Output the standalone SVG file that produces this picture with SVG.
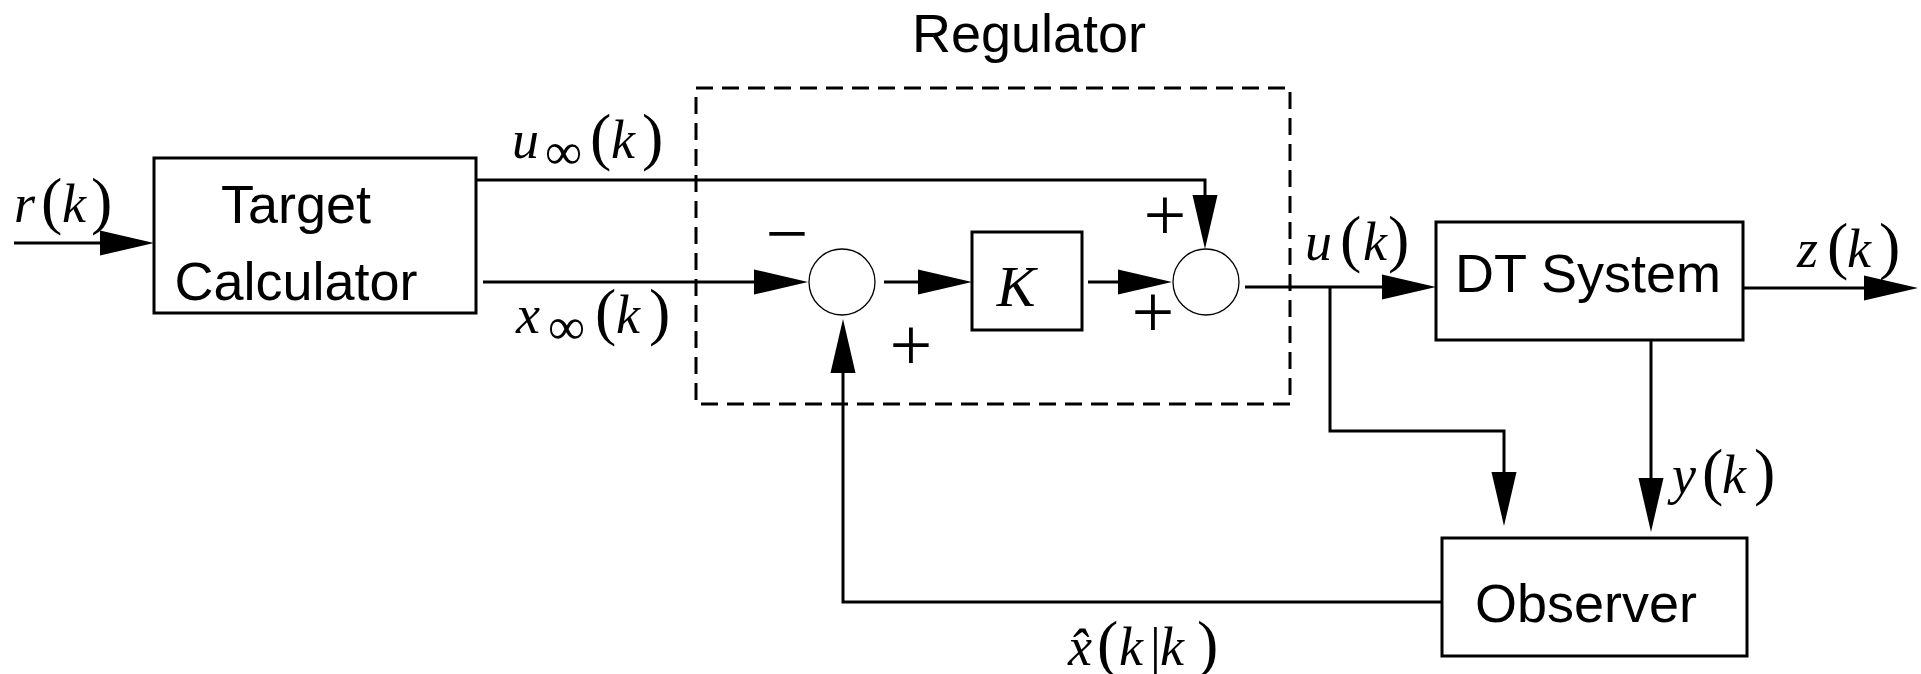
<svg xmlns="http://www.w3.org/2000/svg" width="1921" height="674" viewBox="0 0 1921 674">
<style>
.box{fill:#fff;stroke:#000;stroke-width:3}
.sum{fill:#fff;stroke:#000;stroke-width:1.3}
.ln{fill:none;stroke:#000;stroke-width:3}
.dash{fill:none;stroke:#000;stroke-width:3;stroke-dasharray:17 9}
.t{font-family:"Liberation Sans",Arial,sans-serif;font-size:54px;fill:#000;text-anchor:middle}
.m{font-family:"Liberation Serif","Times New Roman",serif;font-size:54px;fill:#000}
.i{font-style:italic}
.p{font-size:64px}
.s{font-size:52px}
.sg{font-family:"Liberation Serif","Times New Roman",serif;font-size:76px;fill:#000;text-anchor:middle}
</style>
<defs>
<marker id="ah" markerUnits="userSpaceOnUse" markerWidth="56" markerHeight="26" refX="0" refY="13" orient="auto" overflow="visible">
<path d="M0,0.5 L54,13 L0,25.5 Z" fill="#000"/>
</marker>
</defs>
<rect width="1921" height="674" fill="#fff"/>
<g id="regulator">
<rect class="dash" x="696" y="88" width="594" height="316"/>
<text class="t" x="1029" y="52">Regulator</text>
</g>
<g id="connectors">
<path class="ln" d="M14,243 H100" marker-end="url(#ah)"/>
<path class="ln" d="M476,180 H1205 V195" marker-end="url(#ah)"/>
<path class="ln" d="M483,282 H754" marker-end="url(#ah)"/>
<path class="ln" d="M884,282 H918" marker-end="url(#ah)"/>
<path class="ln" d="M1088,282 H1118" marker-end="url(#ah)"/>
<path class="ln" d="M1245,287 H1382" marker-end="url(#ah)"/>
<path class="ln" d="M1330,287 V431 H1504 V472" marker-end="url(#ah)"/>
<path class="ln" d="M1651,340 V478" marker-end="url(#ah)"/>
<path class="ln" d="M1743,288 H1864" marker-end="url(#ah)"/>
<path class="ln" d="M1442,602 H843 V373" marker-end="url(#ah)"/>
</g>
<g id="target">
<rect class="box" x="154" y="158" width="322" height="155"/>
<text class="t" x="296" y="223">Target</text>
<text class="t" x="296" y="300">Calculator</text>
</g>
<g id="sum1">
<circle class="sum" cx="842" cy="282" r="33"/>
</g>
<g id="gainK">
<rect class="box" x="972" y="232" width="110" height="98"/>
<text class="m i" x="1016" y="306" text-anchor="middle" style="font-size:58px">K</text>
</g>
<g id="sum2">
<circle class="sum" cx="1206" cy="282" r="33"/>
</g>
<g id="dtsystem">
<rect class="box" x="1436" y="222" width="307" height="118"/>
<text class="t" x="1588" y="292">DT System</text>
</g>
<g id="observer">
<rect class="box" x="1442" y="538" width="305" height="118"/>
<text class="t" x="1586" y="622">Observer</text>
</g>
<g id="signs">
<text class="sg" x="787" y="259">−</text>
<text class="sg" x="911" y="370">+</text>
<text class="sg" x="1165" y="240">+</text>
<text class="sg" x="1153" y="337">+</text>
</g>
<g id="labels">
<text class="m" y="222"><tspan class="i" x="14">r</tspan><tspan class="p" x="41">(</tspan><tspan class="i" x="62">k</tspan><tspan class="p" x="91">)</tspan></text>
<text class="m" y="158"><tspan class="i" x="512">u</tspan><tspan class="s" x="545" y="169">∞</tspan><tspan class="p" x="590" y="158">(</tspan><tspan class="i" x="611">k</tspan><tspan class="p" x="642">)</tspan></text>
<text class="m" y="333"><tspan class="i" x="516">x</tspan><tspan class="s" x="548" y="344">∞</tspan><tspan class="p" x="595" y="333">(</tspan><tspan class="i" x="616">k</tspan><tspan class="p" x="649">)</tspan></text>
<text class="m" y="260"><tspan class="i" x="1305">u</tspan><tspan class="p" x="1340">(</tspan><tspan class="i" x="1363">k</tspan><tspan class="p" x="1388">)</tspan></text>
<text class="m" y="267"><tspan class="i" x="1797">z</tspan><tspan class="p" x="1827">(</tspan><tspan class="i" x="1847">k</tspan><tspan class="p" x="1879">)</tspan></text>
<text class="m" y="493"><tspan class="i" x="1672">y</tspan><tspan class="p" x="1702">(</tspan><tspan class="i" x="1722">k</tspan><tspan class="p" x="1754">)</tspan></text>
<text class="m" y="665"><tspan class="i" x="1068">x̂</tspan><tspan class="p" x="1097">(</tspan><tspan class="i" x="1119">k</tspan><tspan x="1150">|</tspan><tspan class="i" x="1160">k</tspan><tspan class="p" x="1197">)</tspan></text>
</g>
</svg>
